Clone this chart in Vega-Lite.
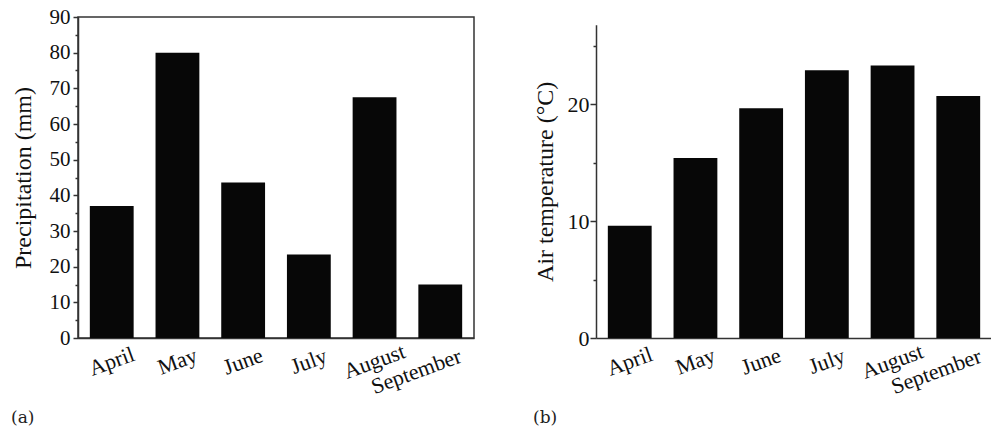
{
  "$schema": "https://vega.github.io/schema/vega-lite/v6.json",
  "padding": {"left": 10, "top": 5, "right": 0, "bottom": 2},
  "background": "white",
  "bounds": "flush",
  "spacing": 122,
  "config": {
    "font": "Liberation Serif",
    "view": {"stroke": null},
    "axis": {"grid": false, "domainColor": "#333", "domainWidth": 1.5, "tickColor": "#333", "tickWidth": 1.5, "labelColor": "#111", "titleColor": "#111", "titleFontWeight": "normal", "titleFontSize": 24, "titleFont": "Liberation Serif", "labelFont": "Liberation Serif"},
    "title": {"font": "DejaVu Serif", "fontSize": 17, "fontWeight": "normal", "color": "#222"}
  },
  "hconcat": [
    {
      "width": 396,
      "height": 321,
      "view": {"stroke": "#333", "strokeWidth": 1.5},
      "title": {"text": "(a)", "orient": "bottom", "anchor": "start", "frame": "bounds", "offset": 13},
      "data": {"values": [
        {"month": "April", "precip": 37},
        {"month": "May", "precip": 80},
        {"month": "June", "precip": 43.6},
        {"month": "July", "precip": 23.4},
        {"month": "August", "precip": 67.5},
        {"month": "September", "precip": 15}
      ]},
      "mark": {"type": "bar", "color": "#070707"},
      "encoding": {
        "x": {"field": "month", "type": "nominal", "sort": null,
          "scale": {"paddingInner": 0.333, "paddingOuter": 0.18},
          "axis": {"title": null, "ticks": false, "labelAngle": -20, "labelAlign": "center", "labelBaseline": "middle", "labelFontSize": 22,
            "labelPadding": {"condition": {"test": "datum.value === 'September'", "value": 33}, "value": 23},
            "labelOffset": {"condition": {"test": "datum.value === 'September'", "value": -24}, "value": 0}}},
        "y": {"field": "precip", "type": "quantitative",
          "scale": {"domain": [0, 90], "nice": false},
          "axis": {"title": "Precipitation (mm)", "values": [0,5,10,15,20,25,30,35,40,45,50,55,60,65,70,75,80,85,90],
            "labelExpr": "datum.value % 10 === 0 ? datum.label : ''", "labelFontSize": 21, "labelPadding": 3, "titlePadding": 14,
            "tickSize": {"condition": {"test": "datum.value % 10 !== 0", "value": 3}, "value": 5}}}
      }
    },
    {
      "width": 396,
      "height": 321,
      "title": {"text": "(b)", "orient": "bottom", "anchor": "start", "frame": "bounds", "offset": 13},
      "data": {"values": [
        {"month": "April", "temp": 9.6},
        {"month": "May", "temp": 15.4},
        {"month": "June", "temp": 19.65},
        {"month": "July", "temp": 22.9},
        {"month": "August", "temp": 23.3},
        {"month": "September", "temp": 20.7}
      ]},
      "mark": {"type": "bar", "color": "#070707"},
      "encoding": {
        "x": {"field": "month", "type": "nominal", "sort": null,
          "scale": {"paddingInner": 0.333, "paddingOuter": 0.18},
          "axis": {"title": null, "ticks": false, "labelAngle": -20, "labelAlign": "center", "labelBaseline": "middle", "labelFontSize": 22,
            "labelPadding": {"condition": {"test": "datum.value === 'September'", "value": 33}, "value": 23},
            "labelOffset": {"condition": {"test": "datum.value === 'September'", "value": -22}, "value": 0}}},
        "y": {"field": "temp", "type": "quantitative",
          "scale": {"domain": [0, 26.8], "nice": false, "range": [321, 7.7]},
          "axis": {"title": "Air temperature (°C)", "values": [0,5,10,15,20,25],
            "labelExpr": "datum.value % 10 === 0 ? datum.label : ''", "labelFontSize": 22, "labelPadding": 1, "titlePadding": 10,
            "tickSize": {"condition": {"test": "datum.value % 10 !== 0", "value": 3}, "value": 6}}}
      }
    }
  ]
}
